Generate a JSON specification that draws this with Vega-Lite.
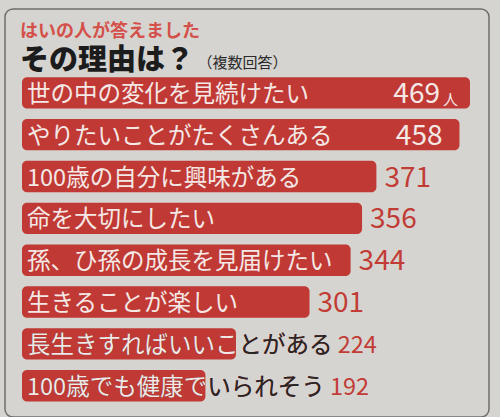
{
  "$schema": "https://vega.github.io/schema/vega-lite/v6.json",
  "width": 484,
  "height": 408,
  "autosize": {"type": "none"},
  "padding": {"left": 5, "top": 9, "right": 11, "bottom": 0},
  "background": "#d6d4d0",
  "config": {
    "view": {"stroke": "#6f6e6b", "strokeWidth": 1.5, "cornerRadius": 8, "fill": "#d6d4d0"},
    "font": "Noto Sans CJK JP"
  },
  "title": {
    "text": "はいの人が答えました",
    "subtitle": "その理由は？",
    "anchor": "start",
    "frame": "group",
    "dx": 15,
    "offset": -67,
    "color": "#d4504a",
    "fontSize": 18,
    "fontWeight": "bold",
    "subtitleColor": "#1c1c1c",
    "subtitleFontSize": 29,
    "subtitleFontWeight": 900,
    "subtitlePadding": 6
  },
  "data": {
    "values": [
      {"label": "世の中の変化を見続けたい", "inner": "世の中の変化を見続けたい", "value": 469},
      {"label": "やりたいことがたくさんある", "inner": "やりたいことがたくさんある", "value": 458},
      {"label": "100歳の自分に興味がある", "inner": "100歳の自分に興味がある", "value": 371},
      {"label": "命を大切にしたい", "inner": "命を大切にしたい", "value": 356},
      {"label": "孫、ひ孫の成長を見届けたい", "inner": "孫、ひ孫の成長を見届けたい", "value": 344},
      {"label": "生きることが楽しい", "inner": "生きることが楽しい", "value": 301},
      {"label": "長生きすればいいことがある", "inner": "長生きすればいいこ", "value": 224},
      {"label": "100歳でも健康でいられそう", "inner": "100歳でも健康で", "value": 192}
    ]
  },
  "encoding": {
    "y": {
      "field": "label",
      "type": "nominal",
      "sort": null,
      "scale": {"paddingInner": 0.25, "paddingOuter": 1.084, "align": 0.814},
      "axis": null
    }
  },
  "layer": [
    {
      "mark": {"type": "bar", "color": "#c03934", "cornerRadius": 5},
      "encoding": {
        "x": {
          "field": "value",
          "type": "quantitative",
          "scale": {"domain": [-17.8, 488.9], "zero": false, "nice": false},
          "axis": {
            "orient": "top",
            "title": "（複数回答）",
            "labels": false,
            "ticks": false,
            "domain": false,
            "grid": false,
            "titleX": 192,
            "titleY": 58,
            "titleAlign": "left",
            "titleBaseline": "alphabetic",
            "titleAnchor": null,
            "titleAngle": 0,
            "titleFontSize": 15,
            "titleFontWeight": "normal",
            "titleColor": "#2a2a2a"
          }
        },
        "x2": {"datum": 0}
      }
    },
    {
      "transform": [
        {"filter": "datum.value < 250"},
        {"calculate": "datum.label + ' ' + datum.value", "as": "tail"}
      ],
      "mark": {"type": "text", "align": "left", "baseline": "middle", "dx": 5, "dy": 2, "fontSize": 23.5, "color": "#c23c36"},
      "encoding": {"x": {"datum": 0}, "text": {"field": "tail"}}
    },
    {
      "transform": [{"filter": "datum.value < 250"}],
      "mark": {"type": "text", "align": "left", "baseline": "middle", "dx": 5, "dy": 2, "fontSize": 23.5, "color": "#262626"},
      "encoding": {"x": {"datum": 0}, "text": {"field": "label"}}
    },
    {
      "mark": {"type": "text", "align": "left", "baseline": "middle", "dx": 5, "dy": 2, "fontSize": 23.5, "color": "#f4e8e6"},
      "encoding": {"x": {"datum": 0}, "text": {"field": "inner"}}
    },
    {
      "transform": [{"filter": "datum.value >= 460"}],
      "mark": {"type": "text", "align": "right", "baseline": "middle", "dx": -30, "dy": 2, "fontSize": 28, "color": "#f4e8e6"},
      "encoding": {"x": {"field": "value", "type": "quantitative"}, "text": {"field": "value"}}
    },
    {
      "transform": [{"filter": "datum.value >= 460"}],
      "mark": {"type": "text", "align": "right", "baseline": "middle", "dx": -12, "dy": 7, "fontSize": 15, "color": "#f4e8e6", "text": "人"},
      "encoding": {"x": {"field": "value", "type": "quantitative"}}
    },
    {
      "transform": [{"filter": "datum.value > 400 && datum.value < 460"}],
      "mark": {"type": "text", "align": "right", "baseline": "middle", "dx": -17, "dy": 2, "fontSize": 28, "color": "#f4e8e6"},
      "encoding": {"x": {"field": "value", "type": "quantitative"}, "text": {"field": "value"}}
    },
    {
      "transform": [{"filter": "datum.value > 250 && datum.value <= 400"}],
      "mark": {"type": "text", "align": "left", "baseline": "middle", "dx": 8, "dy": 2, "fontSize": 28, "color": "#c23c36"},
      "encoding": {"x": {"field": "value", "type": "quantitative"}, "text": {"field": "value"}}
    }
  ]
}
